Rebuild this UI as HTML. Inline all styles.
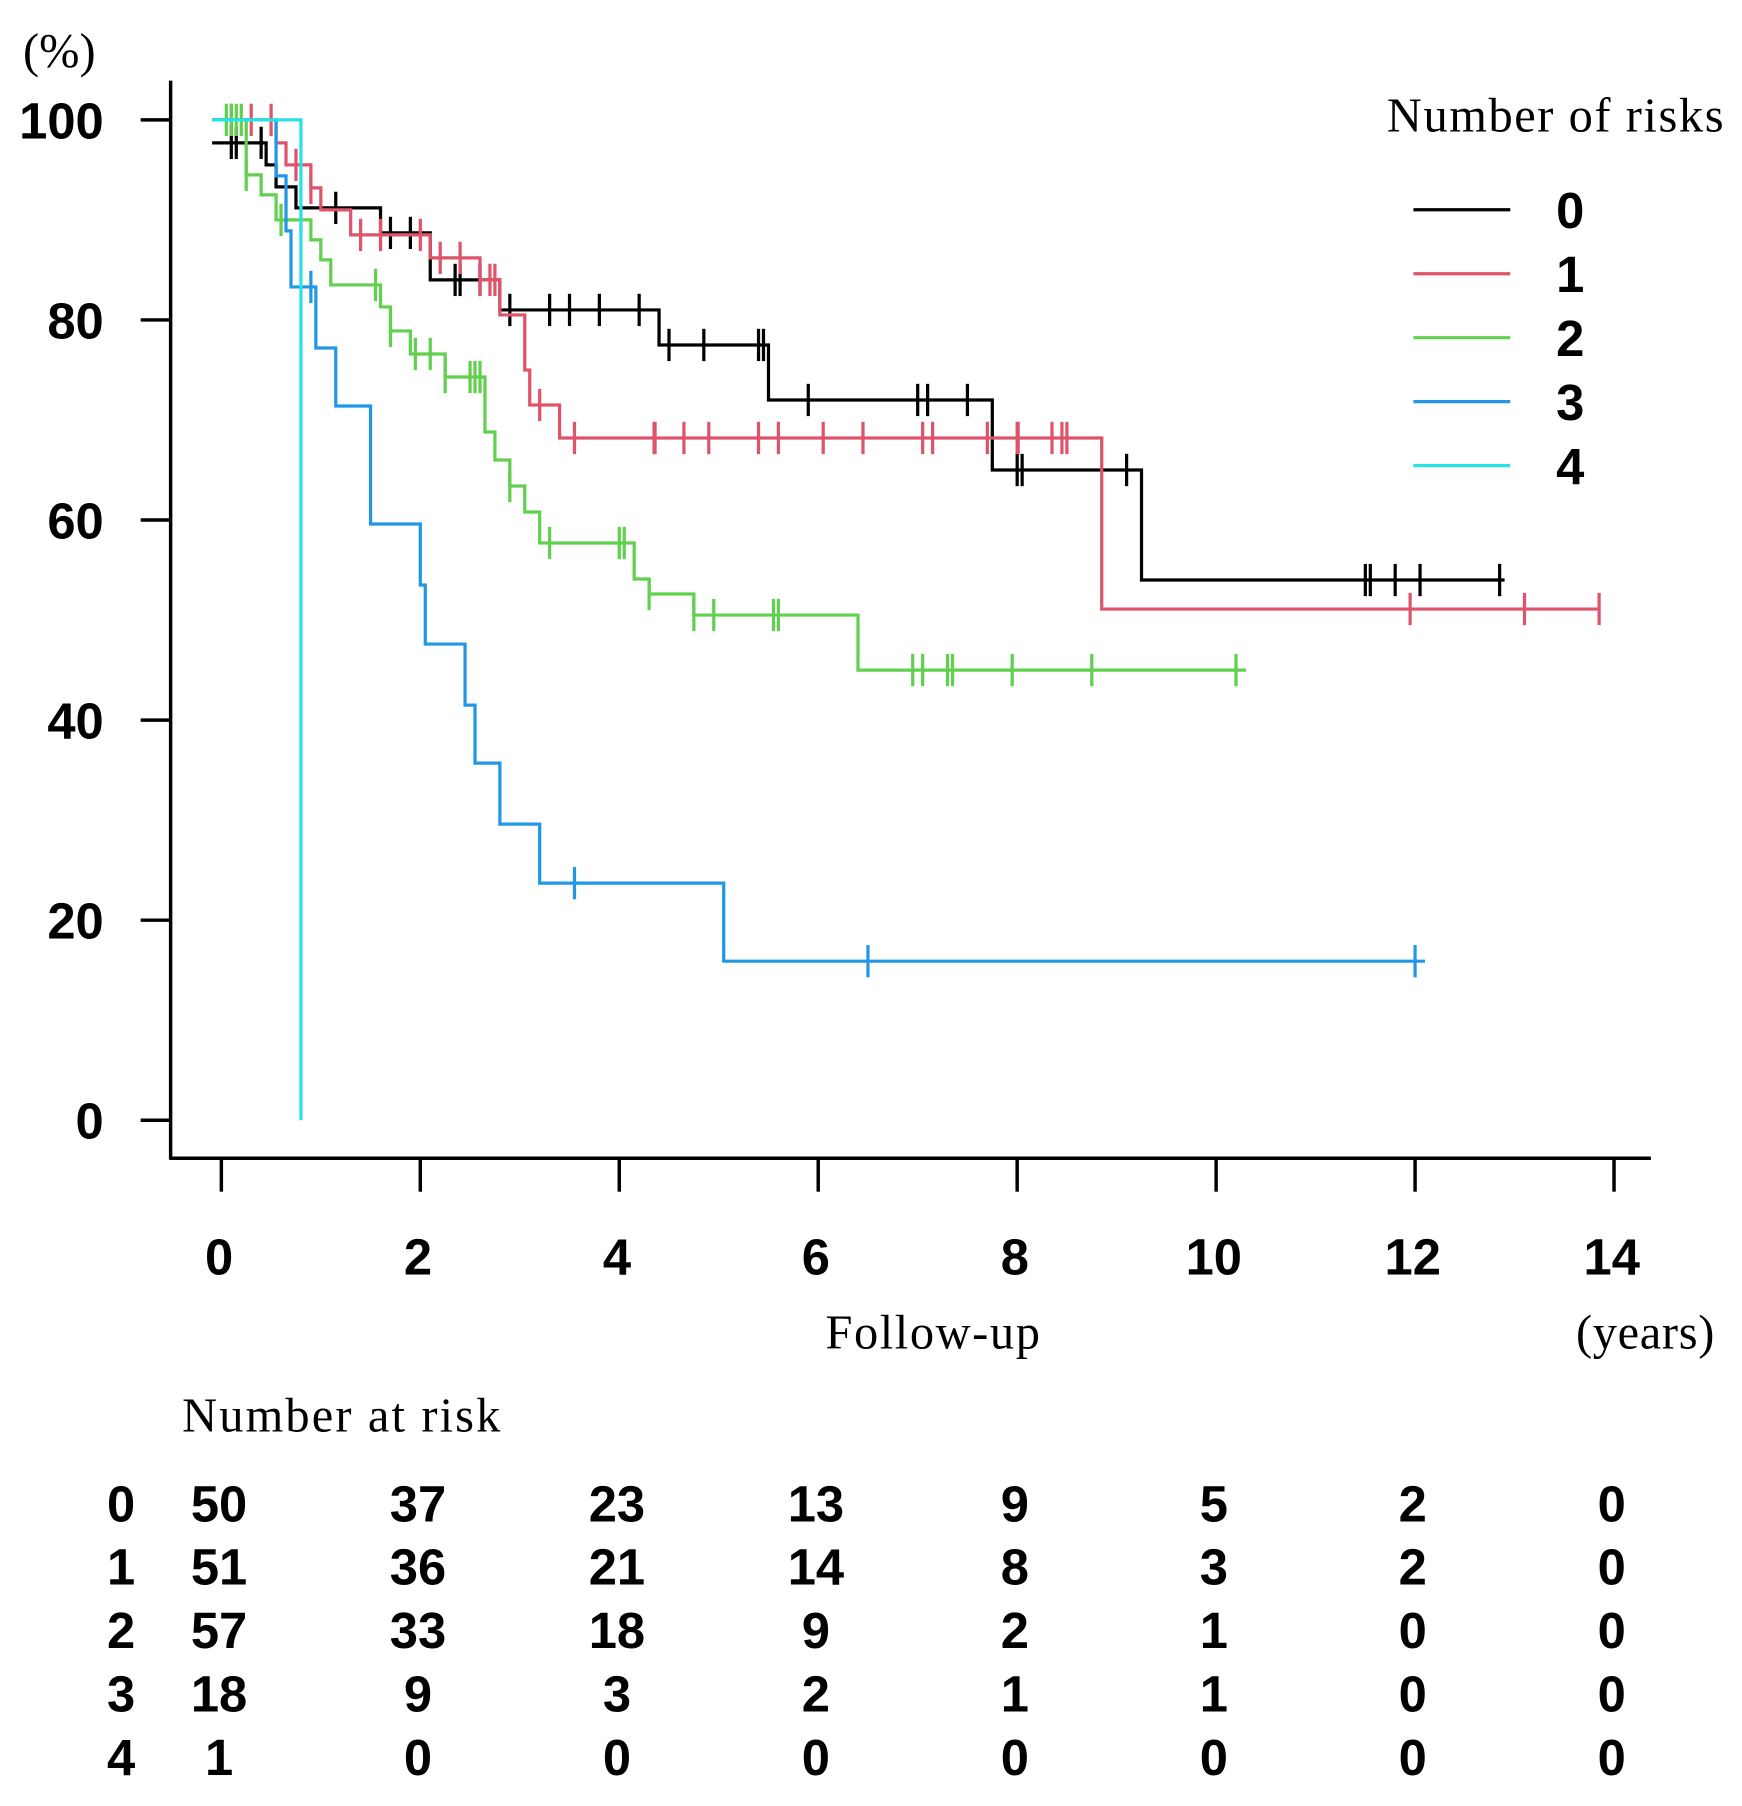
<!DOCTYPE html>
<html><head><meta charset="utf-8"><style>
html,body{margin:0;padding:0;background:#fff}
svg{display:block}
.num{font-family:"Liberation Sans",sans-serif;font-weight:bold;font-size:44px;fill:#000}
.ser{font-family:"Liberation Serif",serif;font-size:42px;fill:#000}
</style></head><body>
<svg id="chart" width="1742" height="1806" viewBox="0 0 1511 1567" preserveAspectRatio="none" xmlns="http://www.w3.org/2000/svg">
<g id="axes"></g>
<g id="series"></g>
<g id="legend"></g>
<g id="table"></g>
</svg>
<script>
const groups = ["0","1","2","3","4"];
const colors = ["#000000","#DF536B","#61D04F","#2297E6","#28E2E5"];
const yTicks = [0,20,40,60,80,100];
const xTicks = [0,2,4,6,8,10,12,14];
const t0 = [0,0.45,0.55,0.75,1.6,2.1,2.8,4.4,5.5,7.75,9.25];
const s0 = [97.7,95.5,93.3,91.2,88.7,84,81,77.5,72,65,54];
const end0 = 12.9;
const c0 = [0.1,0.15,0.4,1.15,1.7,1.9,2.35,2.4,2.6,2.9,3.3,3.5,3.8,4.2,4.5,4.85,5.4,5.45,5.9,7.0,7.1,7.5,8.0,8.05,9.1,11.5,11.55,11.8,12.05,12.85];
const t1 = [0,0.55,0.65,0.9,1.0,1.3,2.1,2.6,2.8,3.05,3.1,3.4,8.85];
const s1 = [100,97.7,95.5,93.2,91,88.5,86.2,84,80.5,75,71.5,68.2,51.1];
const end1 = 13.85;
const c1 = [0.1,0.3,0.5,0.75,0.9,1.4,1.6,2.0,2.2,2.4,2.6,2.7,2.75,3.2,3.55,4.35,4.36,4.65,4.9,5.4,5.6,6.05,6.45,7.05,7.15,7.7,8.0,8.01,8.35,8.45,8.5,11.95,13.1,13.85];
const t2 = [0,0.25,0.4,0.55,0.9,1.0,1.1,1.6,1.7,1.9,2.25,2.65,2.75,2.9,3.05,3.2,4.15,4.3,4.75,6.4];
const s2 = [100,94.5,92.5,90,88,86,83.5,81.3,78.9,76.6,74.3,68.8,66,63.4,60.8,57.7,54.1,52.6,50.5,45];
const end2 = 10.3;
const c2 = [0.05,0.1,0.15,0.2,0.25,0.6,0.8,1.55,1.7,1.95,2.1,2.25,2.5,2.55,2.6,2.9,3.3,4.0,4.05,4.3,4.75,4.95,5.55,5.6,6.95,7.05,7.3,7.35,7.95,8.75,10.2];
const t3 = [0,0.55,0.65,0.7,0.95,1.15,1.5,2.0,2.05,2.45,2.55,2.8,3.2,5.05];
const s3 = [100,94.4,88.9,83.3,77.2,71.4,59.6,53.5,47.6,41.5,35.7,29.6,23.7,15.9];
const end3 = 12.1;
const c3 = [0.9,3.55,6.5,12.0];
const t4 = [0,0.8];
const s4 = [100,0];
const end4 = 0.8;
const c4 = [];
const riskTimes = [0,2,4,6,8,10,12,14];
const risk0 = [50,37,23,13,9,5,2,0];
const risk1 = [51,36,21,14,8,3,2,0];
const risk2 = [57,33,18,9,2,1,0,0];
const risk3 = [18,9,3,2,1,1,0,0];
const risk4 = [1,0,0,0,0,0,0,0];

const NS="http://www.w3.org/2000/svg";
const X = t => 192 + t*(1400-192)/14;
const Y = v => 972 - v*(972-104)/100;
function mk(tag, attrs, parent){const e=document.createElementNS(NS,tag);for(const k in attrs)e.setAttribute(k,attrs[k]);parent.appendChild(e);return e;}
const axes=document.getElementById('axes');
let e;
e=mk('line',{x1:148,y1:70,x2:148,y2:1006,stroke:'#000','stroke-width':3},axes);


e=mk('line',{x1:147,y1:1005,x2:1432,y2:1005,stroke:'#000','stroke-width':3},axes);


yTicks.forEach(v=>{
  e=mk('line',{x1:122,y1:Y(v),x2:148,y2:Y(v),stroke:'#000','stroke-width':3},axes);
  
  
  e=mk('text',{x:90,y:Y(v)+16,'text-anchor':'end',class:'num'},axes);e.textContent=v;
  
  
});
xTicks.forEach(v=>{
  e=mk('line',{x1:X(v),y1:1005,x2:X(v),y2:1034,stroke:'#000','stroke-width':3},axes);
  
  
  e=mk('text',{x:X(v)-2,y:1106,'text-anchor':'middle',class:'num'},axes);e.textContent=v;
  
  
});
e=mk('text',{x:20,y:58,class:'ser'},axes);e.textContent='(%)';


e=mk('text',{x:809,y:1170,'text-anchor':'middle',class:'ser',textLength:186},axes);e.textContent='Follow-up';


e=mk('text',{x:1367,y:1170,class:'ser',textLength:120},axes);e.textContent='(years)';



const sg=document.getElementById('series');
const all=[[t0,s0,end0,c0],[t1,s1,end1,c1],[t2,s2,end2,c2],[t3,s3,end3,c3],[t4,s4,end4,c4]];
function survAt(ts,ss,t){let v=ss[0];for(let i=0;i<ts.length;i++){if(ts[i]<=t)v=ss[i];}return v;}
all.forEach((d,gi)=>{
  const [ts,ss,end,cs]=d;
  let p='M'+(X(ts[0])-8)+' '+Y(ss[0]);
  for(let i=1;i<ts.length;i++){p+=' H'+X(ts[i])+' V'+Y(ss[i]);}
  p+=' H'+X(end);
  const g=mk('g',{},sg);
  
  
  e=mk('path',{d:p,fill:'none',stroke:colors[gi],'stroke-width':2.8},g);
  
  
  cs.forEach(c=>{
    const yy=Y(survAt(ts,ss,c));
    e=mk('line',{x1:X(c),y1:yy-14,x2:X(c),y2:yy+14,stroke:colors[gi],'stroke-width':2.8},g);
    
    
  });
});

const lg=document.getElementById('legend');
e=mk('text',{x:1203,y:114,class:'ser',textLength:292},lg);e.textContent='Number of risks';


groups.forEach((gname,i)=>{
  const yy=182+i*55.5;
  const g=mk('g',{},lg);
  
  
  mk('line',{x1:1226,y1:yy,x2:1310,y2:yy,stroke:colors[i],'stroke-width':2.8},g);
  e=mk('text',{x:1362,y:yy+16,'text-anchor':'middle',class:'num'},g);e.textContent=gname;
});

const tb=document.getElementById('table');
e=mk('text',{x:158,y:1242,class:'ser',textLength:276},tb);e.textContent='Number at risk';


[risk0,risk1,risk2,risk3,risk4].forEach((row,i)=>{
  const yy=1320+i*55;
  const g=mk('g',{},tb);
  
  
  e=mk('text',{x:105,y:yy,'text-anchor':'middle',class:'num'},g);e.textContent=groups[i];
  row.forEach((v,j)=>{
    const t=mk('text',{x:X(riskTimes[j])-2,y:yy,'text-anchor':'middle',class:'num'},g);t.textContent=v;
  });
});
</script>
</body></html>
